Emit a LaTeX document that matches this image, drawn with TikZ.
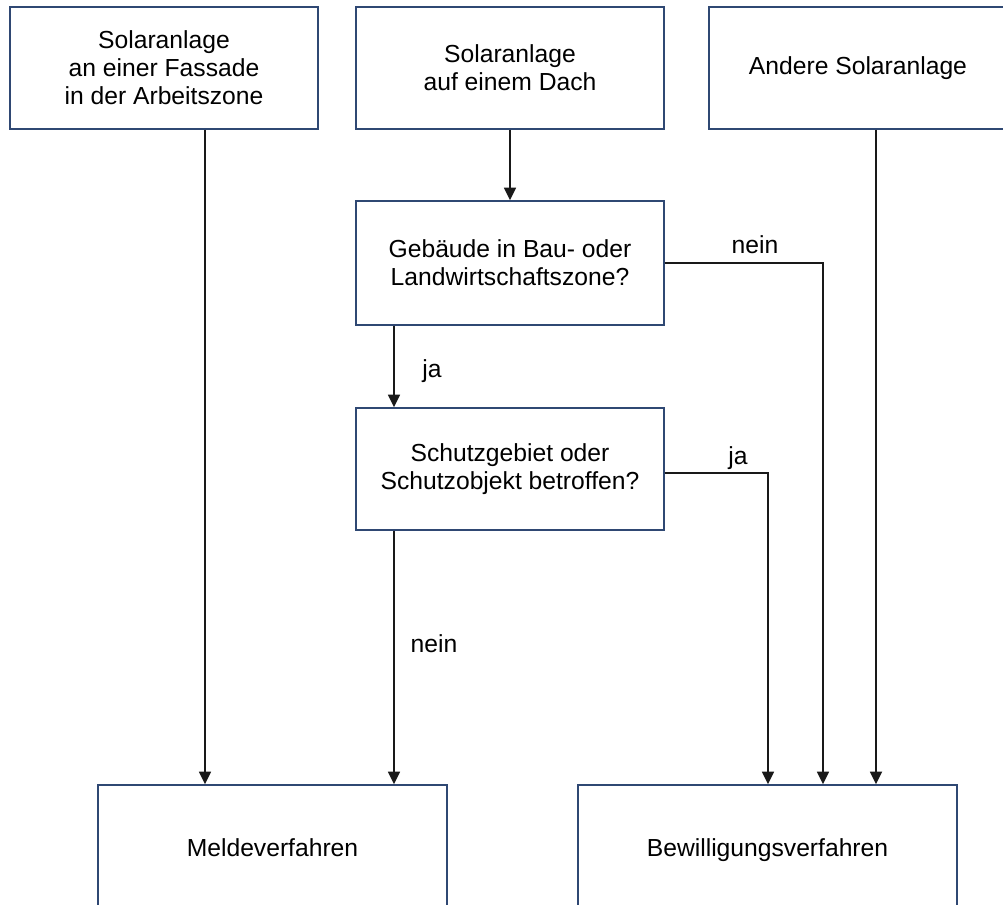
\documentclass[tikz,border=0pt]{standalone}
\usepackage{fontspec}
\setmainfont{Liberation Sans}
\usetikzlibrary{arrows.meta}
\definecolor{boxblue}{RGB}{47,72,115}
\definecolor{linegray}{RGB}{25,25,25}
\tikzset{
	kasten/.style={draw=boxblue, line width=1.1pt, align=center, inner sep=0pt,
		font=\fontsize{18.5}{21}\selectfont},
	pfeil/.style={draw=linegray, line width=1.3pt, -{Triangle[length=9.5pt,width=9pt]}},
	beschr/.style={anchor=base, inner sep=0pt, font=\fontsize{18.5}{21}\selectfont}
}
\begin{document}
\begin{tikzpicture}[x=0.75pt,y=-0.75pt]
		\useasboundingbox (0,0) rectangle (1003,904);
		% obere Reihe
		\node[kasten, minimum width=231pt, minimum height=91.5pt] (fassade) at (164,68) {Solaranlage\\an einer Fassade\\in der Arbeitszone};
		\node[kasten, minimum width=231pt, minimum height=91.5pt] (dach) at (510,68) {Solaranlage\\auf einem Dach};
		\node[kasten, minimum width=223.5pt, minimum height=91.5pt] (andere) at (858,68) {Andere Solaranlage};
		% Fragen
		\node[kasten, minimum width=231pt, minimum height=93pt] (gebaeude) at (510,263) {Geb\"aude in Bau- oder\\Landwirtschaftszone?};
		\node[kasten, minimum width=231pt, minimum height=91.5pt] (schutz) at (510,469) {Schutzgebiet oder\\Schutzobjekt betroffen?};
		% Verfahren
		\node[kasten, minimum width=261.75pt, minimum height=94.5pt] (melde) at (272.5,848) {Meldeverfahren};
		\node[kasten, minimum width=284.25pt, minimum height=94.5pt, text depth=0pt] (bewilligung) at (767.5,848) {Bewilligungsverfahren};
		% Spuren der Pfeile
		\coordinate (xa) at (205,0);
		\coordinate (xb) at (394,0);
		\coordinate (xc) at (768,0);
		\coordinate (xd) at (823,0);
		\coordinate (xe) at (876,0);
		\draw[pfeil] (xa |- fassade.south) -- (xa |- melde.north);
		\draw[pfeil] (dach.south) -- (gebaeude.north);
		\draw[pfeil] (xb |- gebaeude.south) -- (xb |- schutz.north);
		\draw[pfeil] (xb |- schutz.south) -- (xb |- melde.north);
		\draw[pfeil] (gebaeude.east) -| (xd |- bewilligung.north);
		\draw[pfeil] ([yshift=-3pt]schutz.east) -| (xc |- bewilligung.north);
		\draw[pfeil] (xe |- andere.south) -- (xe |- bewilligung.north);
		% Antworten
		\node[beschr] (ja1) at (432,377) {ja};
		\node[beschr] (nein1) at (755,253) {nein};
		\node[beschr] (ja2) at (738,464) {ja};
		\node[beschr] (nein2) at (434,652) {nein};
	\end{tikzpicture}
\end{document}
